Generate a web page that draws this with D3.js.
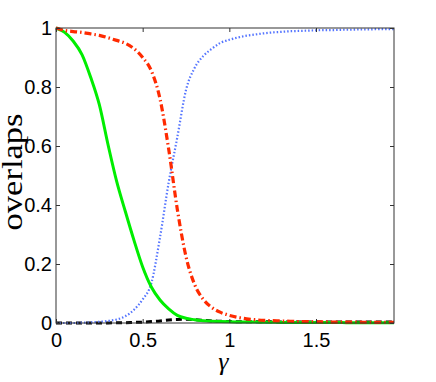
<!DOCTYPE html>
<html lang="en">
<head>
    <meta charset="UTF-8">
    <title>overlaps</title>
    <script type="text/javascript" src="https://cdnjs.cloudflare.com/ajax/libs/d3/7.8.5/d3.min.js"></script>
    <style>
        body { margin: 0; background: white; }
        .tick text { font-family: "Liberation Sans", Arial, sans-serif; font-size: 20px; fill: black; }
    </style>
</head>
<body>
<svg id="chart" width="436" height="382"></svg>

<script type="text/javascript">
    // gamma grid (x values)
    const gamma = [0, 0.05, 0.1, 0.15, 0.2, 0.25, 0.3, 0.35, 0.4, 0.45,
        0.5, 0.55, 0.6, 0.65, 0.7, 0.75, 0.8, 0.85, 0.9, 0.95,
        1.0, 1.05, 1.1, 1.15, 1.2, 1.25, 1.3, 1.35, 1.4, 1.45,
        1.5, 1.55, 1.6, 1.65, 1.7, 1.75, 1.8, 1.85, 1.9, 1.95];

    // green solid
    const greenVals = [1.0, 0.985, 0.955, 0.91, 0.833, 0.74, 0.605, 0.48, 0.378, 0.28,
        0.19, 0.122, 0.078, 0.048, 0.026, 0.016, 0.011, 0.008, 0.006, 0.005,
        0.004, 0.0035, 0.003, 0.003, 0.0025, 0.0025, 0.002, 0.002, 0.002, 0.002,
        0.0015, 0.0015, 0.0015, 0.0015, 0.001, 0.001, 0.001, 0.001, 0.001, 0.001];

    // red dash-dot
    const redVals = [1.0, 0.992, 0.988, 0.985, 0.98, 0.975, 0.967, 0.958, 0.948, 0.93,
        0.9, 0.855, 0.76, 0.59, 0.385, 0.225, 0.13, 0.08, 0.052, 0.036,
        0.026, 0.019, 0.014, 0.011, 0.009, 0.008, 0.007, 0.006, 0.005, 0.005,
        0.004, 0.004, 0.003, 0.003, 0.003, 0.003, 0.002, 0.002, 0.002, 0.002];

    // blue dotted
    const blueVals = [0, 0, 0, 0.001, 0.002, 0.004, 0.007, 0.012, 0.023, 0.045,
        0.08, 0.135, 0.29, 0.476, 0.63, 0.79, 0.865, 0.905, 0.93, 0.95,
        0.96, 0.968, 0.974, 0.978, 0.982, 0.985, 0.987, 0.989, 0.99, 0.991,
        0.992, 0.993, 0.993, 0.994, 0.994, 0.995, 0.995, 0.996, 0.996, 0.996];

    // black dashed
    const blackVals = [0, 0, 0, 0, 0, 0, 0, 0.001, 0.001, 0.002,
        0.003, 0.005, 0.007, 0.01, 0.012, 0.0125, 0.011, 0.009, 0.007, 0.006,
        0.005, 0.0045, 0.004, 0.004, 0.004, 0.004, 0.0035, 0.0035, 0.0035, 0.003,
        0.003, 0.003, 0.003, 0.003, 0.003, 0.003, 0.003, 0.003, 0.003, 0.003];

    const xTicks = [0, 0.5, 1, 1.5];
    const xTickLabels = ["0", "0.5", "1", "1.5"];
    const yTicks = [0, 0.2, 0.4, 0.6, 0.8, 1];
    const yTickLabels = ["0", "0.2", "0.4", "0.6", "0.8", "1"];

    const plotLeft = 56, plotTop = 28, plotRight = 394, plotBottom = 323;

    const svg = d3.select("#chart");
    const x = d3.scaleLinear().domain([0, 1.95]).range([plotLeft, plotRight]);
    const y = d3.scaleLinear().domain([0, 1]).range([plotBottom, plotTop]);

    // series drawn back to front
    const series = [
        {vals: blackVals, color: "#000000", width: 3, dash: "6,4"},
        {vals: blueVals, color: "#5575ff", width: 2.2, dash: "1.5,2"},
        {vals: greenVals, color: "#00ee00", width: 3, dash: null},
        {vals: redVals, color: "#ff2a00", width: 3.2, dash: "7,3,1.5,3"}
    ];

    const line = d3.line()
        .x(function(d) { return x(d[0]); })
        .y(function(d) { return y(d[1]); })
        .curve(d3.curveMonotoneX);

    svg.append("g")
        .selectAll("path")
        .data(series)
        .enter().append("path")
        .attr("d", function(s) { return line(gamma.map(function(g, i) { return [g, s.vals[i]]; })); })
        .attr("fill", "none")
        .attr("stroke", function(s) { return s.color; })
        .attr("stroke-width", function(s) { return s.width; })
        .attr("stroke-dasharray", function(s) { return s.dash; });

    // axes, ticks inside like matlab
    const axisColor = "#333";
    function styleAxis(g) {
        g.select(".domain").remove();
        g.selectAll(".tick line").attr("stroke", axisColor);
    }

    svg.append("g")
        .attr("transform", "translate(0," + plotBottom + ")")
        .call(d3.axisBottom(x).tickValues(xTicks).tickSizeInner(-4).tickPadding(10)
            .tickFormat(function(d, i) { return xTickLabels[i]; }))
        .call(styleAxis);
    svg.append("g")
        .attr("transform", "translate(0," + plotTop + ")")
        .call(d3.axisTop(x).tickValues(xTicks).tickSizeInner(-4).tickFormat(""))
        .call(styleAxis);
    svg.append("g")
        .attr("transform", "translate(" + plotLeft + ",0)")
        .call(d3.axisLeft(y).tickValues(yTicks).tickSizeInner(-4).tickPadding(4)
            .tickFormat(function(d, i) { return yTickLabels[i]; }))
        .call(styleAxis);
    svg.append("g")
        .attr("transform", "translate(" + plotRight + ",0)")
        .call(d3.axisRight(y).tickValues(yTicks).tickSizeInner(-4).tickFormat(""))
        .call(styleAxis);

    svg.selectAll(".tick text").attr("font-family", null).attr("font-size", null);

    svg.append("rect")
        .attr("x", plotLeft).attr("y", plotTop)
        .attr("width", plotRight - plotLeft).attr("height", plotBottom - plotTop)
        .attr("fill", "none")
        .attr("stroke", axisColor)
        .attr("stroke-width", 1);

    // labels
    svg.append("text")
        .attr("transform", "translate(22,172) rotate(-90)")
        .attr("text-anchor", "middle")
        .attr("font-family", "'Liberation Serif', 'DejaVu Serif', serif")
        .attr("font-size", 29)
        .attr("textLength", 117)
        .attr("lengthAdjust", "spacingAndGlyphs")
        .text("overlaps");

    svg.append("text")
        .attr("x", x(1) - 6)
        .attr("y", 370)
        .attr("text-anchor", "middle")
        .attr("font-family", "'Liberation Serif', 'DejaVu Serif', serif")
        .attr("font-style", "italic")
        .attr("font-size", 26)
        .text("γ");
</script>
</body>
</html>
